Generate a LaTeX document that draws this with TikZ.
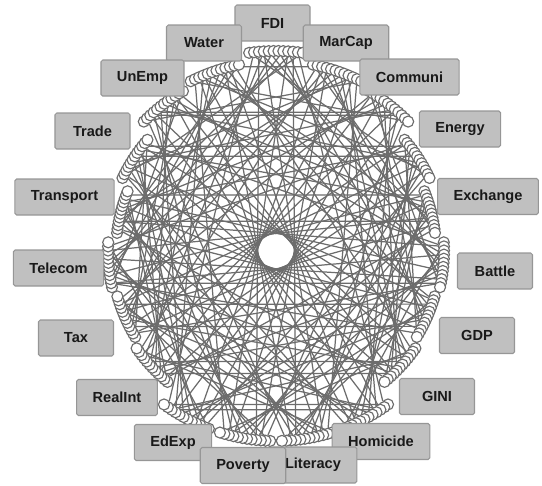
\documentclass[tikz,border=0pt]{standalone}
\usepackage{fontspec}
\setmainfont{Liberation Sans}
\usetikzlibrary{backgrounds}

\definecolor{boxgray}{RGB}{192,192,192}
\definecolor{boxedge}{RGB}{150,150,150}
\definecolor{linkgray}{RGB}{108,108,108}

\begin{document}
\begin{tikzpicture}[
  x=0.02cm, y=-0.02cm,
  vnode/.style={circle, draw=linkgray, fill=white, line width=0.65pt, minimum size=6.3pt, inner sep=0pt},
  link/.style={draw=linkgray, line width=0.7pt},
  varbox/.style={rectangle, rounded corners=1pt, draw=boxedge, fill=boxgray, line width=0.6pt,
                 minimum width=42.7pt, minimum height=20.5pt, inner xsep=9.1pt, inner ysep=0pt,
                 text=black!90, font=\fontsize{8.3}{10}\selectfont\bfseries}
]
\useasboundingbox (0,0) rectangle (542,485);

% Indicator nodes: 12 per variable, on short arcs round the centre
\foreach \g/\r in {0/200, 1/190, 2/185, 3/170, 4/160, 5/168, 6/165, 7/170, 8/190, 9/190,
                   10/190, 11/190, 12/170, 13/165, 14/168, 15/160, 16/170, 17/185, 18/190} {
  \foreach \j in {0,...,11} {
    \pgfmathsetmacro{\a}{90-18.947*\g-1.4*(\j-5.5)}
    \node[vnode] (n-\g-\j) at ({276+\r*cos(\a)},{251-\r*sin(\a)}) {};
  }
}

% Links between indicators
\begin{scope}[on background layer]
  \foreach \g/\d in {0/1, 1/1, 2/1, 3/2, 4/2, 5/2, 6/2, 7/2, 8/1, 9/1,
                     10/1, 11/1, 12/2, 13/2, 14/2, 15/2, 16/2, 17/1, 18/1} {
    % star links, step 3 to 8 groups
    \foreach \j in {0,2,...,10} {
      \pgfmathtruncatemacro{\h}{mod(\g+3+\j/2,19)}
      \pgfmathtruncatemacro{\k}{11-\j}
      \draw[link] (n-\g-\j) -- (n-\h-\k);
    }
    % long links round the hole
    \pgfmathtruncatemacro{\h}{mod(\g+9,19)}
    \pgfmathtruncatemacro{\ka}{3-\d}
    \pgfmathtruncatemacro{\kb}{9-\d}
    \draw[link] (n-\g-3) -- (n-\h-\ka);
    \draw[link] (n-\g-9) -- (n-\h-\kb);
  }
  % horizontal links between mirrored variables
  \foreach \g/\j in {1/2, 2/8, 3/2, 4/8, 5/10, 6/2, 7/8, 8/2, 9/8} {
    \pgfmathtruncatemacro{\h}{19-\g}
    \pgfmathtruncatemacro{\k}{11-\j}
    \draw[link] (n-\g-\j) -- (n-\h-\k);
  }
\end{scope}

% Variable labels
\node[varbox] (fdi)      at (272.5, 23)  {FDI};
\node[varbox] (water)    at (204, 43)    {Water};
\node[varbox] (marcap)   at (346, 43)    {MarCap};
\node[varbox] (unemp)    at (142.5, 78)  {UnEmp};
\node[varbox] (communi)  at (409.5, 77)  {Communi};
\node[varbox] (trade)    at (92.5, 131)  {Trade};
\node[varbox] (energy)   at (460, 129)   {Energy};
\node[varbox] (transport) at (64.5, 197) {Transport};
\node[varbox] (exchange) at (488, 196.5)  {Exchange};
\node[varbox] (telecom)  at (58.5, 268)  {Telecom};
\node[varbox] (battle)   at (495, 271)   {Battle};
\node[varbox] (tax)      at (76, 338)    {Tax};
\node[varbox] (gdp)      at (477, 335.5) {GDP};
\node[varbox] (realint)  at (117, 397.5) {RealInt};
\node[varbox] (gini)     at (437, 396.5) {GINI};
\node[varbox] (edexp)    at (173, 442.5) {EdExp};
\node[varbox] (homicide) at (381, 441.5) {Homicide};
\node[varbox] (literacy) at (313, 465)   {Literacy};
\node[varbox] (poverty)  at (243, 465.5) {Poverty};

\end{tikzpicture}
\end{document}
